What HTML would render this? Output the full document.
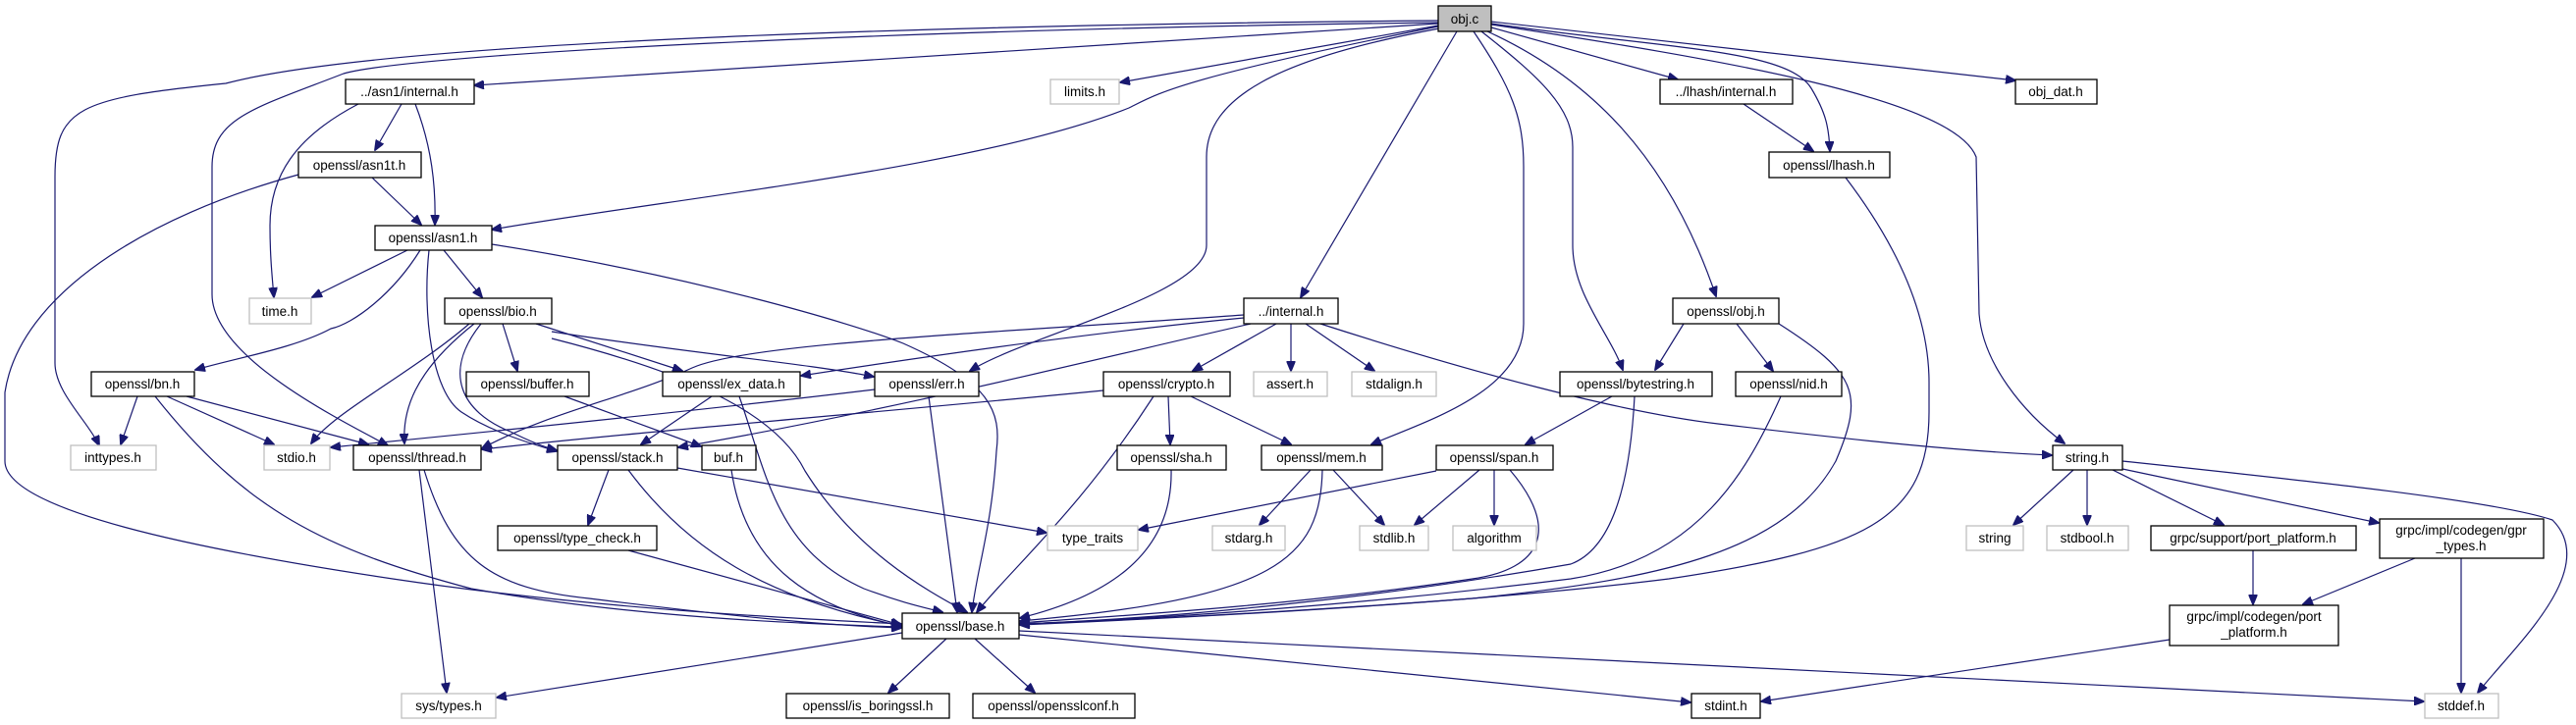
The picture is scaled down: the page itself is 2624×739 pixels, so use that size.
<!DOCTYPE html>
<html><head><meta charset="utf-8"><style>
html,body{margin:0;padding:0;background:#fff;}
svg{display:block}
text{font-family:"Liberation Sans",sans-serif;font-size:13.5px;fill:#000;text-anchor:middle}
.e{fill:none;stroke:#191970;stroke-width:1.2}
.n{fill:#fff;stroke:#000;stroke-width:1.3}
.g{fill:#fff;stroke:#bfbfbf;stroke-width:1.3}
</style></head><body>
<svg width="2624" height="739" viewBox="0 0 2624 739" xmlns="http://www.w3.org/2000/svg">
<defs><marker id="a" markerWidth="11" markerHeight="9" refX="10" refY="4.5" orient="auto" markerUnits="userSpaceOnUse"><path d="M0,0 L11,4.5 L0,9 z" fill="#191970" stroke="#191970"/></marker></defs>
<g class="e" marker-end="url(#a)">
<!-- obj.c edges -->
<path d="M1465,21 C1000,25 400,40 230,85 C80,100 56,110 56,180 L56,370 C56,400 90,430 101,454"/>
<path d="M1465,23 C900,30 420,55 350,75 C260,110 216,120 216,170 L216,300 C216,360 330,420 395,454"/>
<path d="M1465,24 L483,87"/>
<path d="M1465,26 L1141,84"/>
<path d="M1465,27 C1200,80 1180,95 1150,110 C1000,170 700,200 501,234"/>
<path d="M1466,29 C1300,60 1229,100 1229,160 L1229,250 C1229,300 1050,340 988,378"/>
<path d="M1484,32 L1325,303"/>
<path d="M1501,32 C1540,90 1552,120 1552,170 L1552,330 C1552,400 1450,430 1397,453"/>
<path d="M1509,32 C1570,80 1602,110 1602,150 L1602,250 C1602,300 1640,340 1653,377"/>
<path d="M1515,32 C1620,80 1700,160 1748,302"/>
<path d="M1519,28 L1709,81"/>
<path d="M1519,24 C1700,50 1820,50 1845,90 C1860,115 1863,130 1864,154"/>
<path d="M1519,22 L2053,82"/>
<path d="M1519,25 C1750,60 1990,100 2013,160 L2016,320 C2020,370 2060,420 2103,452"/>
<!-- asn1/internal -->
<path d="M365,106 C300,140 275,180 275,230 C275,260 277,280 279,303"/>
<path d="M409,106 L382,153"/>
<path d="M423,106 C440,150 444,190 443,229"/>
<!-- asn1t -->
<path d="M379,181 L429,229"/>
<path d="M304,178 C150,220 20,300 5,400 L5,470 C5,520 200,560 400,590 C600,620 800,630 918,636"/>
<!-- asn1.h -->
<path d="M415,255 L318,303"/>
<path d="M428,255 C400,300 360,330 337,335 C300,355 240,365 199,377"/>
<path d="M437,255 C430,320 440,400 470,420 C500,440 540,452 567,460"/>
<path d="M452,255 L491,303"/>
<path d="M501,249 C700,280 870,330 920,350 C1010,390 1020,420 1015,460 C1010,540 995,580 990,624"/>
<!-- bio.h -->
<path d="M478,330 C420,380 340,420 317,452"/>
<path d="M483,330 C420,380 410,420 412,452"/>
<path d="M490,330 C450,380 470,420 520,440 C540,450 555,456 567,459"/>
<path d="M512,330 L527,378"/>
<path d="M546,330 L695,378"/>
<path d="M562,338 C700,360 820,370 890,384"/>
<path d="M562,345 C700,380 790,420 820,480 C870,560 940,600 985,624"/>
<!-- bn.h -->
<path d="M140,404 L123,453"/>
<path d="M170,404 L279,453"/>
<path d="M190,404 L375,453"/>
<path d="M158,404 C250,520 330,560 480,600 C650,630 820,636 918,639"/>
<!-- misc -->
<path d="M575,404 L714,455"/>
<path d="M725,404 L653,453"/>
<path d="M753,404 C780,480 790,560 880,600 C920,615 945,620 960,624"/>
<path d="M891,397 C700,420 500,440 337,456"/>
<path d="M946,404 L975,624"/>
<!-- ../internal.h -->
<path d="M1267,321 C1000,340 760,350 705,375 C640,405 560,420 491,457"/>
<path d="M1267,324 C1100,340 900,370 816,383"/>
<path d="M1274,330 C1100,370 900,420 691,456"/>
<path d="M1300,330 L1215,378"/>
<path d="M1315,330 L1315,378"/>
<path d="M1330,330 L1400,378"/>
<path d="M1345,330 C1500,380 1650,420 1750,432 C1900,450 2000,460 2090,464"/>
<!-- crypto.h -->
<path d="M1124,398 C900,420 650,440 491,458"/>
<path d="M1190,404 L1192,453"/>
<path d="M1213,404 L1315,453"/>
<path d="M1175,404 C1100,520 1030,580 995,624"/>
<path d="M1193,479 C1195,570 1120,610 1039,630"/>
<path d="M1335,479 L1283,535"/>
<path d="M1358,479 L1410,535"/>
<path d="M1347,479 C1345,570 1300,610 1039,633"/>
<path d="M1463,480 L1160,540"/>
<path d="M1507,479 L1441,535"/>
<path d="M1522,479 L1522,535"/>
<path d="M1538,479 C1590,540 1570,580 1500,590 C1300,620 1100,630 1039,635"/>
<!-- stack, buf, thread -->
<path d="M620,479 L599,535"/>
<path d="M640,479 C700,560 780,610 918,638"/>
<path d="M690,477 L1066,543"/>
<path d="M745,479 C760,580 830,620 918,638"/>
<path d="M640,561 L918,637"/>
<path d="M427,479 L455,706"/>
<path d="M432,479 C460,570 500,600 600,610 C760,630 850,638 918,640"/>
<!-- bytestring, obj, nid, lhash -->
<path d="M1642,404 L1554,453"/>
<path d="M1665,404 C1660,500 1640,560 1600,575 C1400,610 1200,630 1039,636"/>
<path d="M1715,330 L1686,377"/>
<path d="M1769,330 L1806,378"/>
<path d="M1812,330 C1890,380 1900,400 1870,470 C1820,560 1700,590 1500,610 C1300,625 1150,632 1039,636"/>
<path d="M1814,404 C1780,480 1730,570 1600,590 C1400,615 1200,630 1039,636"/>
<path d="M1880,181 C1940,260 1965,330 1965,390 L1965,420 C1965,530 1900,560 1700,590 C1500,615 1200,630 1039,637"/>
<path d="M1776,106 L1847,154"/>
<!-- string.h -->
<path d="M2112,479 L2051,535"/>
<path d="M2126,479 L2126,535"/>
<path d="M2152,479 L2265,535"/>
<path d="M2162,478 L2423,533"/>
<path d="M2162,470 C2350,490 2540,510 2600,530 C2650,580 2560,660 2524,706"/>
<path d="M2295,561 L2295,616"/>
<path d="M2460,569 L2346,616"/>
<path d="M2507,569 L2507,706"/>
<path d="M2210,652 L1794,715"/>
<!-- base.h -->
<path d="M919,645 L506,711"/>
<path d="M964,651 L905,706"/>
<path d="M993,651 L1054,706"/>
<path d="M1038,647 L1722,716"/>
<path d="M1038,643 L2469,715"/>
</g>
<!-- nodes -->
<g>
<rect x="1465" y="6" width="54" height="26" fill="#bfbfbf" stroke="#000" stroke-width="1.3"/><text x="1492" y="24">obj.c</text>
<rect class="n" x="352" y="81" width="131" height="25"/><text x="417" y="98">../asn1/internal.h</text>
<rect class="g" x="1070" y="81" width="70" height="25"/><text x="1105" y="98">limits.h</text>
<rect class="n" x="1691" y="81" width="135" height="25"/><text x="1758" y="98">../lhash/internal.h</text>
<rect class="n" x="2053" y="81" width="83" height="25"/><text x="2094" y="98">obj_dat.h</text>
<rect class="n" x="304" y="155" width="125" height="26"/><text x="366" y="173">openssl/asn1t.h</text>
<rect class="n" x="1802" y="155" width="123" height="26"/><text x="1863" y="173">openssl/lhash.h</text>
<rect class="n" x="382" y="230" width="119" height="25"/><text x="441" y="247">openssl/asn1.h</text>
<rect class="g" x="254" y="304" width="63" height="26"/><text x="285" y="322">time.h</text>
<rect class="n" x="453" y="304" width="109" height="26"/><text x="507" y="322">openssl/bio.h</text>
<rect class="n" x="1267" y="304" width="96" height="26"/><text x="1315" y="322">../internal.h</text>
<rect class="n" x="1704" y="304" width="108" height="26"/><text x="1758" y="322">openssl/obj.h</text>
<rect class="n" x="93" y="379" width="105" height="25"/><text x="145" y="396">openssl/bn.h</text>
<rect class="n" x="475" y="379" width="125" height="25"/><text x="537" y="396">openssl/buffer.h</text>
<rect class="n" x="675" y="379" width="140" height="25"/><text x="745" y="396">openssl/ex_data.h</text>
<rect class="n" x="891" y="379" width="106" height="25"/><text x="944" y="396">openssl/err.h</text>
<rect class="n" x="1124" y="379" width="129" height="25"/><text x="1188" y="396">openssl/crypto.h</text>
<rect class="g" x="1277" y="379" width="75" height="25"/><text x="1314" y="396">assert.h</text>
<rect class="g" x="1377" y="379" width="86" height="25"/><text x="1420" y="396">stdalign.h</text>
<rect class="n" x="1589" y="379" width="155" height="25"/><text x="1666" y="396">openssl/bytestring.h</text>
<rect class="n" x="1768" y="379" width="108" height="25"/><text x="1822" y="396">openssl/nid.h</text>
<rect class="g" x="72" y="454" width="87" height="25"/><text x="115" y="471">inttypes.h</text>
<rect class="g" x="269" y="454" width="67" height="25"/><text x="302" y="471">stdio.h</text>
<rect class="n" x="360" y="454" width="130" height="25"/><text x="425" y="471">openssl/thread.h</text>
<rect class="n" x="568" y="454" width="122" height="25"/><text x="629" y="471">openssl/stack.h</text>
<rect class="n" x="715" y="454" width="55" height="25"/><text x="742" y="471">buf.h</text>
<rect class="n" x="1138" y="454" width="111" height="25"/><text x="1193" y="471">openssl/sha.h</text>
<rect class="n" x="1285" y="454" width="123" height="25"/><text x="1346" y="471">openssl/mem.h</text>
<rect class="n" x="1463" y="454" width="119" height="25"/><text x="1522" y="471">openssl/span.h</text>
<rect class="n" x="2091" y="454" width="71" height="25"/><text x="2126" y="471">string.h</text>
<rect class="n" x="507" y="536" width="162" height="25"/><text x="588" y="553">openssl/type_check.h</text>
<rect class="g" x="1067" y="536" width="92" height="25"/><text x="1113" y="553">type_traits</text>
<rect class="g" x="1235" y="536" width="74" height="25"/><text x="1272" y="553">stdarg.h</text>
<rect class="g" x="1385" y="536" width="70" height="25"/><text x="1420" y="553">stdlib.h</text>
<rect class="g" x="1480" y="536" width="85" height="25"/><text x="1522" y="553">algorithm</text>
<rect class="g" x="2003" y="536" width="58" height="25"/><text x="2032" y="553">string</text>
<rect class="g" x="2085" y="536" width="83" height="25"/><text x="2126" y="553">stdbool.h</text>
<rect class="n" x="2191" y="536" width="209" height="25"/><text x="2295" y="553">grpc/support/port_platform.h</text>
<rect class="n" x="2424" y="529" width="167" height="40"/><text x="2507" y="545">grpc/impl/codegen/gpr</text><text x="2507" y="561">_types.h</text>
<rect class="n" x="919" y="625" width="119" height="26"/><text x="978" y="643">openssl/base.h</text>
<rect class="n" x="2210" y="617" width="172" height="41"/><text x="2296" y="633">grpc/impl/codegen/port</text><text x="2296" y="649">_platform.h</text>
<rect class="g" x="409" y="707" width="96" height="25"/><text x="457" y="724">sys/types.h</text>
<rect class="n" x="801" y="707" width="166" height="25"/><text x="884" y="724">openssl/is_boringssl.h</text>
<rect class="n" x="991" y="707" width="165" height="25"/><text x="1073" y="724">openssl/opensslconf.h</text>
<rect class="n" x="1723" y="707" width="70" height="25"/><text x="1758" y="724">stdint.h</text>
<rect class="g" x="2470" y="707" width="75" height="25"/><text x="2507" y="724">stddef.h</text>
</g>
</svg>
</body></html>
